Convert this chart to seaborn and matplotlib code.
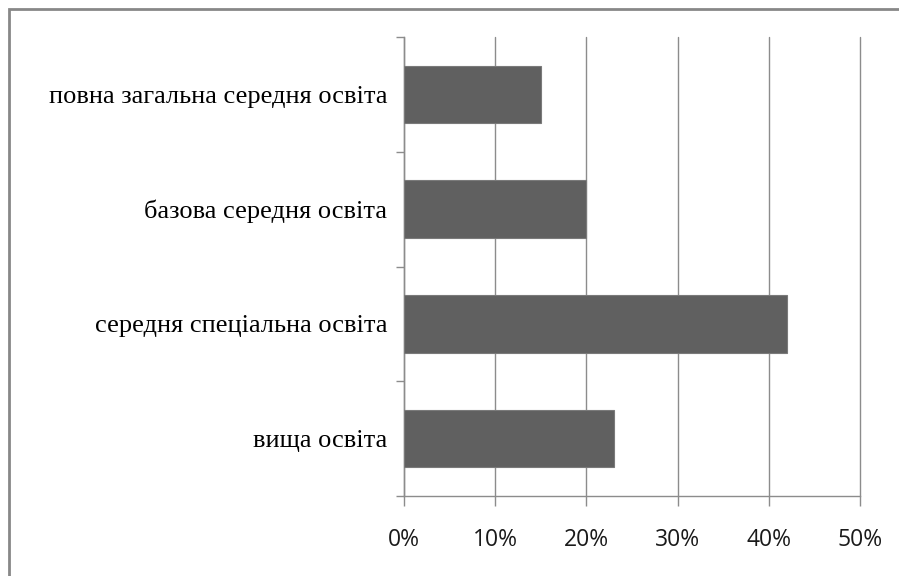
import matplotlib
matplotlib.use("Agg")
import matplotlib.pyplot as plt
import seaborn as sns
import pandas as pd
from matplotlib.ticker import FuncFormatter, FixedLocator
from matplotlib.patches import Rectangle

categories = ["повна загальна середня освіта", "базова середня освіта",
              "середня спеціальна освіта", "вища освіта"]
values = [0.15, 0.20, 0.42, 0.23]
xticks = [0.0, 0.1, 0.2, 0.3, 0.4, 0.5]

df = pd.DataFrame({"cat": categories, "val": values})

sns.set_theme(style="white")
W, H = 899, 576
fig = plt.figure(figsize=(W / 100, H / 100), dpi=100)
ax = fig.add_axes([404 / W, 1 - 496 / H, (860 - 404) / W, (496 - 37) / H])

sns.barplot(data=df, x="val", y="cat", orient="h", color="#606060",
            width=0.5, ax=ax, edgecolor="#7a7a7a", linewidth=0.8, zorder=3)

grid_c = "#8c8c8c"
ax.set_xlim(0, 0.5)
ax.set_ylim(3.5, -0.5)
ax.xaxis.set_major_locator(FixedLocator(xticks))
ax.xaxis.set_major_formatter(FuncFormatter(lambda v, p: f"{round(v * 100)}%"))
ax.grid(axis="x", color=grid_c, linewidth=1.0, zorder=0)
ax.set_axisbelow(True)
for line in ax.get_xgridlines():
    line.set_clip_on(False)
for s in ["top", "right"]:
    ax.spines[s].set_visible(False)
for s in ["left", "bottom"]:
    ax.spines[s].set_color(grid_c)
    ax.spines[s].set_linewidth(1.0)

ax.set_xlabel("")
ax.set_ylabel("")
ax.tick_params(axis="x", which="major", length=7, width=1.0, color=grid_c,
               direction="out", bottom=True, pad=16, labelcolor="#1a1a1a")
for lab in ax.get_xticklabels():
    lab.set_fontfamily(["Open Sans", "DejaVu Sans"])
    lab.set_fontsize(16.5)

ax.set_yticks([-0.5, 0.5, 1.5, 2.5, 3.5], minor=True)
ax.tick_params(axis="y", which="minor", length=6, width=1.0, color=grid_c,
               direction="out", left=True)
ax.tick_params(axis="y", which="major", length=0, pad=12, labelcolor="#000000")
for lab in ax.get_yticklabels():
    lab.set_fontfamily(["Liberation Serif", "DejaVu Serif"])
    lab.set_fontsize(19)

# outer chart border (left and top visible)
fig.patches.append(Rectangle((9 / W, -0.1), 1.2, 1 - 9 / H + 0.1,
                             transform=fig.transFigure, fill=False,
                             edgecolor="#888888", linewidth=2.0))

fig.savefig("out.png", dpi=100)
